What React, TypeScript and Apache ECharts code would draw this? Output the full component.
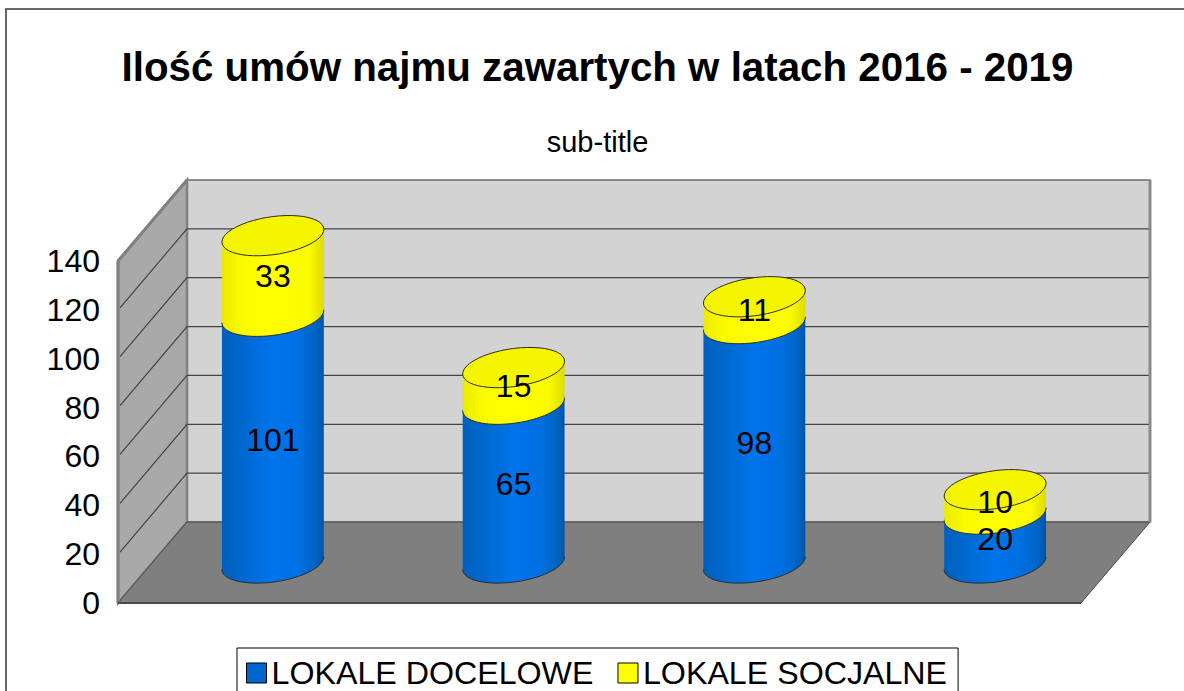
import React, { useEffect, useRef } from "react";
import * as echarts from "echarts";

const TITLE = "Ilość umów najmu zawartych w latach 2016 - 2019";
const SUBTITLE = "sub-title";
const categories = ["2016", "2017", "2018", "2019"];
const docelowe = [101, 65, 98, 20];
const socjalne = [33, 15, 11, 10];
const yTicks = [0, 20, 40, 60, 80, 100, 120, 140];
const NAME_A = "LOKALE DOCELOWE";
const NAME_B = "LOKALE SOCJALNE";

const FONT = '"Liberation Sans", Arial, sans-serif';
const DX = 69;
const DY = 81;

function arcPoints(cx: number, cy: number, a: number, from: number, to: number) {
  const pts: number[][] = [];
  const n = 48;
  const sk = a * 0.125;
  const b = a * 0.375;
  for (let i = 0; i <= n; i++) {
    const t = from + ((to - from) * i) / n;
    pts.push([cx + a * Math.cos(t), cy - sk * Math.cos(t) - b * Math.sin(t)]);
  }
  return pts;
}

function frameRender(params: any, api: any) {
  const cs = params.coordSys;
  const x0 = cs.x;
  const x1 = cs.x + cs.width;
  const yB = cs.y + cs.height;
  const yT = cs.y;
  const children: any[] = [
    {
      type: "polygon",
      shape: { points: [[x0 + DX, yT - DY], [x1 + DX, yT - DY], [x1 + DX, yB - DY], [x0 + DX, yB - DY]] },
      style: { fill: "#d3d3d3", stroke: "#6e6e6e", lineWidth: 1.5 },
    },
    {
      type: "polygon",
      shape: { points: [[x0, yT], [x0 + DX, yT - DY], [x0 + DX, yB - DY], [x0, yB]] },
      style: { fill: "#a9a9a9", stroke: "#808080", lineWidth: 2.5 },
    },
  ];
  yTicks.forEach((v) => {
    const y = api.coord([categories[0], v])[1];
    if (v > 0 && v < yTicks[yTicks.length - 1]) {
      children.push({
        type: "polyline",
        shape: { points: [[x0 + 2, y - 2], [x0 + DX, y - DY], [x1 + DX, y - DY]] },
        style: { fill: "none", stroke: "#444444", lineWidth: 1.2 },
      });
    }
  });
  children.push(
    {
      type: "polygon",
      shape: { points: [[x0, yB], [x0 + DX, yB - DY], [x1 + DX, yB - DY], [x1, yB]] },
      style: { fill: "#7f7f7f", stroke: "#4a4a4a", lineWidth: 1 },
    },
    {
      type: "line",
      shape: { x1: x1 + DX, y1: yT - DY, x2: x1 + DX, y2: yB - DY },
      style: { stroke: "#8a8a8a", lineWidth: 3 },
    },
    {
      type: "line",
      shape: { x1: x0, y1: yT, x2: x0 + DX, y2: yT - DY },
      style: { stroke: "#808080", lineWidth: 3 },
    },
    {
      type: "line",
      shape: { x1: x0, y1: yT, x2: x0, y2: yB },
      style: { stroke: "#808080", lineWidth: 3 },
    },
    {
      type: "line",
      shape: { x1: x0, y1: yB, x2: x1, y2: yB },
      style: { stroke: "#4a4a4a", lineWidth: 2 },
    }
  );
  return { type: "group", children };
}

function cylinderRender(stops: any[], topFill: string | null, layer: number) {
  return (params: any, api: any) => {
    const cat = api.value(0);
    const base = api.value(1);
    const val = api.value(2);
    const pB = api.coord([cat, base]);
    const pT = api.coord([cat, base + val]);
    const a = api.size([1, 0])[0] * 0.2116;
    const cx = pB[0] + DX / 2;
    const cyB = pB[1] - DY / 2 + 0.5;
    const cyT = pT[1] - DY / 2 + 0.5;
    const lower = arcPoints(cx, cyB, a, 2 * Math.PI, Math.PI);
    const upper = arcPoints(cx, cyT, a, Math.PI, 0);
    const children: any[] = [
      {
        type: "polygon",
        z2: layer,
        shape: { points: [...lower, ...upper] },
        style: {
          fill: { type: "linear", x: 0, y: 0, x2: 1, y2: 0, colorStops: stops },
        },
      },
      {
        type: "polyline",
        z2: layer + 1,
        shape: { points: lower },
        style: { fill: "none", stroke: "#2c2c2c", lineWidth: 1 },
      },
    ];
    if (topFill) {
      const whole = arcPoints(cx, cyT, a, 0, 2 * Math.PI);
      children.push({
        type: "polygon",
        z2: layer + 2,
        shape: { points: whole },
        style: { fill: topFill, stroke: "#2c2c2c", lineWidth: 1 },
      });
    }
    children.push({
      type: "text",
      z2: 100,
      style: {
        text: String(val),
        x: cx,
        y: (cyB + cyT) / 2,
        align: "center",
        verticalAlign: "middle",
        fill: "#000",
        font: `32px ${FONT}`,
      },
    });
    return { type: "group", children };
  };
}

const blueStops = [
  { offset: 0, color: "#0060bc" },
  { offset: 0.3, color: "#006cd8" },
  { offset: 0.5, color: "#0074ea" },
  { offset: 0.75, color: "#0070e2" },
  { offset: 0.92, color: "#0064c4" },
  { offset: 1, color: "#0056a6" },
];
const yellowStops = [
  { offset: 0, color: "#eaea00" },
  { offset: 0.2, color: "#fbfb00" },
  { offset: 0.5, color: "#ffff00" },
  { offset: 0.85, color: "#fbfb00" },
  { offset: 1, color: "#dcdc00" },
];

export default function App() {
  const ref = useRef<HTMLDivElement>(null);
  useEffect(() => {
    const chart = echarts.init(ref.current!, null, { renderer: "svg" });
    chart.setOption({
      animation: false,
      backgroundColor: "#ffffff",
      textStyle: { fontFamily: FONT },
      title: [
        {
          text: TITLE,
          left: 597.5,
          top: 47.5,
          padding: 0,
          textAlign: "center",
          textStyle: { fontFamily: FONT, fontSize: 40.3, fontWeight: "bold", color: "#000" },
        },
        {
          text: SUBTITLE,
          left: 597.5,
          top: 127,
          padding: 0,
          textAlign: "center",
          textStyle: { fontFamily: FONT, fontSize: 29, fontWeight: "normal", color: "#000" },
        },
      ],
      grid: { left: 118, top: 261, width: 963, height: 342 },
      xAxis: {
        type: "category",
        data: categories,
        axisLine: { show: false },
        axisTick: { show: false },
        axisLabel: { show: false },
      },
      yAxis: {
        type: "value",
        min: 0,
        max: 140,
        interval: 20,
        axisLine: { show: false },
        axisTick: { show: false },
        splitLine: { show: false },
        axisLabel: { margin: 18, color: "#000", fontSize: 32, fontFamily: FONT },
      },
      legend: {
        data: [NAME_A, NAME_B],
        left: 237,
        top: 648,
        orient: "horizontal",
        icon: "rect",
        itemWidth: 20,
        itemHeight: 20,
        itemGap: 24,
        padding: [9, 11, 9, 9],
        borderColor: "#000",
        borderWidth: 1,
        backgroundColor: "#fff",
        selectedMode: false,
        itemStyle: { borderColor: "#000", borderWidth: 1 },
        textStyle: { color: "#000", fontSize: 32.2, fontFamily: FONT },
      },
      graphic: [
        {
          type: "rect",
          z: -1,
          shape: { x: 6, y: 9, width: 1300, height: 800 },
          style: { fill: "none", stroke: "#666", lineWidth: 2 },
        },
      ],
      series: [
        {
          type: "custom",
          name: "frame",
          silent: true,
          renderItem: frameRender,
          data: [[categories[0], 0]],
          encode: { x: 0, y: 1 },
          z: 1,
        },
        {
          type: "custom",
          name: NAME_A,
          renderItem: cylinderRender(blueStops, null, 1),
          itemStyle: { color: "#0066cc" },
          data: categories.map((c, i) => [c, 0, docelowe[i]]),
          encode: { x: 0, y: [1, 2] },
          z: 2,
        },
        {
          type: "custom",
          name: NAME_B,
          renderItem: cylinderRender(yellowStops, "#f5f500", 10),
          itemStyle: { color: "#ffff00" },
          data: categories.map((c, i) => [c, docelowe[i], socjalne[i]]),
          encode: { x: 0, y: [1, 2] },
          z: 2,
        },
      ],
    });
    return () => chart.dispose();
  }, []);
  return (
    <div
      ref={ref}
      style={{ position: "absolute", left: 0, top: 0, width: 1184, height: 691, overflow: "hidden" }}
    />
  );
}
